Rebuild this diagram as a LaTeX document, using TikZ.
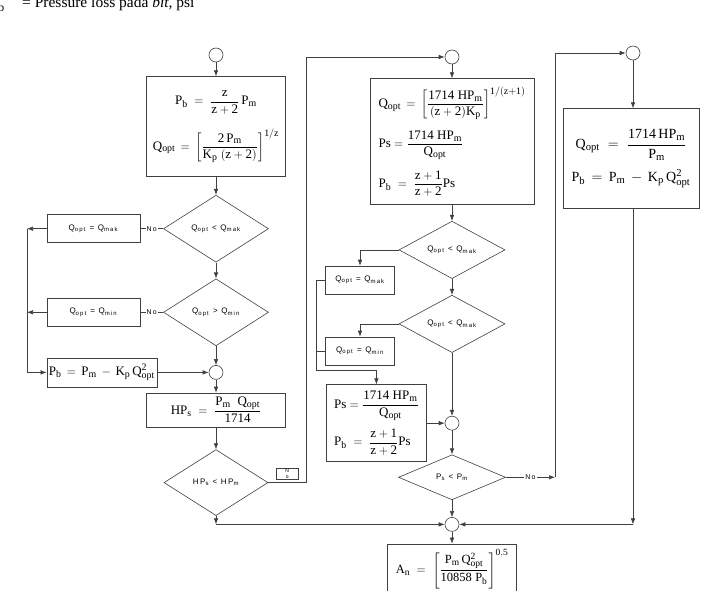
\documentclass[tikz,border=0pt]{standalone}
\usepackage{amsmath}
\usepackage{fontspec}
\setmainfont{Liberation Serif}
\newfontfamily\lblfont[LetterSpace=18]{Liberation Sans}
\renewcommand\defaultscriptratio{.76}
\usetikzlibrary{arrows.meta,positioning,shapes.geometric}
\definecolor{ink}{RGB}{64,64,64}

\begin{document}
\begin{tikzpicture}[x=1pt,y=-1pt]
\tikzstyle{B}=[draw=ink,line width=0.6pt,align=left,inner sep=3pt,font=\fontsize{13}{15}\selectfont]
\tikzstyle{Q}=[draw=ink,line width=0.6pt,minimum width=93pt,minimum height=28pt,inner sep=1pt,font=\lblfont\fontsize{8}{9}\selectfont]
\tikzstyle{D}=[draw=ink,line width=0.6pt,diamond,inner sep=0pt,minimum width=105pt,minimum height=67pt,font=\lblfont\fontsize{8}{9}\selectfont]
\tikzstyle{J}=[draw=ink,line width=0.6pt,circle,minimum size=14pt,inner sep=0pt]
\tikzstyle{A}=[-{Latex[length=6pt,width=4.5pt]},draw=ink,line width=0.6pt]
\tikzstyle{L}=[draw=ink,line width=0.6pt]
\tikzstyle{nolbl}=[fill=white,inner sep=1pt,font=\lblfont\fontsize{7}{8}\selectfont]
\tikzstyle{nobox}=[draw=ink,line width=0.5pt,minimum width=22pt,minimum height=11pt,inner sep=0pt,align=center,font=\lblfont\fontsize{5}{5.5}\selectfont]
\useasboundingbox (0,0) rectangle (702,591);
\clip (0,0) rectangle (702,591);
\node[anchor=base west,inner sep=0pt,font=\fontsize{15.5}{17}\selectfont] (cap) at (22,8) {= Pressure loss pada \textit{bit}, psi};
\node[anchor=base east,inner sep=0pt,font=\fontsize{15.5}{17}\selectfont] (capb) at (5,8) {P\textsubscript{b}};
% left column
\node[J] (s1) at (216,55) {};
\node[B,below=14pt of s1,minimum width=139pt,minimum height=100pt,align=center] (b1) {$\mathrm{P_b}\;=\;\dfrac{\mathrm{z}}{\mathrm{z+2}}\,\mathrm{P_m}$\\[14pt]
$\mathrm{Q_{opt}}\,=\,\left[\dfrac{\mathrm{2\,P_m}}{\mathrm{K_p\;(z+2)}}\right]^{\mathrm{1/z}}$};
\node[D,below=18pt of b1] (d1) {Q\textsubscript{opt} < Q\textsubscript{mak}};
\node[D,below=16pt of d1] (d2) {Q\textsubscript{opt} > Q\textsubscript{min}};
\node[J,below=19pt of d2] (j1) {};
\node[B,below=13pt of j1,minimum width=139pt,minimum height=34pt,align=center] (b2) {$\mathrm{HP_s}\;=\;\dfrac{\mathrm{P_m\;\;Q_{opt}}}{\mathrm{1714}}$};
\node[D,below=22pt of b2,minimum width=104pt,minimum height=66pt] (d3) {HP\textsubscript{s} < HP\textsubscript{m}};
\node[Q,left=23pt of d1] (q1) {Q\textsubscript{opt} = Q\textsubscript{mak}};
\node[Q,left=23pt of d2] (q2) {Q\textsubscript{opt} = Q\textsubscript{min}};
\node[B,anchor=west,minimum width=110pt,minimum height=29pt,inner sep=1pt] (pb) at (q2.west |- j1) {$\mathrm{P_b}\,=\,\mathrm{P_m}\,-\,\mathrm{K_p\,Q^2_{opt}}$};
% middle column
\node[J] (s2) at (452,57) {};
\node[B,below=14pt of s2,minimum width=164pt,minimum height=126pt,inner sep=5pt] (b3) {$\mathrm{Q_{opt}}\,=\,\left[\dfrac{\mathrm{1714\;HP_m}}{\mathrm{(z+2)K_p}}\right]^{\mathrm{1/(z+1)}}$\\[10pt]
$\mathrm{Ps}=\dfrac{\mathrm{1714\;HP_m}}{\mathrm{Q_{opt}}}$\\[10pt]
$\mathrm{P_b}\;=\;\dfrac{\mathrm{z+1}}{\mathrm{z+2}}\mathrm{Ps}$};
\node[D,below=16pt of b3,minimum width=106pt,minimum height=56pt] (d4) {Q\textsubscript{opt} < Q\textsubscript{mak}};
\node[D,below=16pt of d4,minimum width=106pt,minimum height=56pt] (d5) {Q\textsubscript{opt} < Q\textsubscript{mak}};
\node[J,below=63pt of d5] (j2) {};
\node[D,below=24pt of j2,minimum width=107pt,minimum height=45pt] (d6) {P\textsubscript{s} < P\textsubscript{m}};
\node[J,below=17pt of d6] (jf) {};
\node[B,below=12pt of jf,minimum width=129pt,minimum height=50pt,inner sep=1pt,align=center,font=\fontsize{12.5}{14}\selectfont] (b6) {$\mathrm{A_n}\;=\;\left[\dfrac{\mathrm{P_m\,Q^2_{opt}}}{\mathrm{10858\;P_b}}\right]^{\mathrm{0,5}}$};
\node[Q,minimum width=69pt] (q3) at (360,280) {Q\textsubscript{opt} = Q\textsubscript{mak}};
\node[Q,minimum width=69pt] (q4) at (360,351) {Q\textsubscript{opt} = Q\textsubscript{min}};
\node[B,left=18pt of j2,minimum width=100pt,minimum height=77pt] (b4) {$\mathrm{Ps}=\dfrac{\mathrm{1714\;HP_m}}{\mathrm{Q_{opt}}}$\\[8pt]
$\mathrm{P_b}\;=\;\dfrac{\mathrm{z+1}}{\mathrm{z+2}}\mathrm{Ps}$};
% right column
\node[J] (s3) at (633,53) {};
\node[B,below=48pt of s3,xshift=-2pt,minimum width=136pt,minimum height=100pt,align=center,font=\fontsize{14}{16}\selectfont] (b5) {$\mathrm{Q_{opt}}\;=\;\dfrac{\mathrm{1714\,HP_m}}{\mathrm{P_m}}$\\[8pt]
$\mathrm{P_b}\,=\,\mathrm{P_m}\,-\,\mathrm{K_p\,Q^2_{opt}}$};
% connectors
\foreach \a/\b in {s1/b1,b1/d1,d1/d2,d2/j1,j1/b2,b2/d3,s2/b3,b3/d4,d4/d5,d5/j2,j2/d6,d6/jf,jf/b6}
  \draw[A] (\a)--(\b);
\draw[L] (d1) -- node[nolbl]{No} (q1);
\draw[L] (d2) -- node[nolbl]{No} (q2);
\coordinate (lx) at (27,0);
\draw[A] (q1.west) -- (q1.west -| lx);
\draw[A] (q2.west) -- (q2.west -| lx);
\draw[A] (q1.west -| lx) |- (pb.west);
\draw[A] (pb) -- (j1);
\draw[A] (d4.west) -| (q3.north);
\draw[A] (d5.west) -| (q4.north);
\coordinate (mk) at (316,370);
\draw[A] (q3.west) -| (mk) -| (b4.north);
\draw[L] (q4.west) -- (q4.west -| mk);
\draw[A] (b4) -- (j2);
\coordinate (nx) at (306,0);
\draw[L] (d3.east) -- node[nobox,above=3pt]{N\\o} (d3.east -| nx);
\draw[A] (d3.east -| nx) |- (s2.west);
\coordinate (rx) at (555,0);
\draw[A] (d6.east) -- node[nolbl]{No} (d6.east -| rx);
\draw[A] (d6.east -| rx) |- (s3.west);
\draw[A] (s3) -- (s3 |- b5.north);
\draw[A] (s3 |- b5.south) -- (s3 |- jf);
\draw[A] (s3 |- jf) -- (jf);
\draw[A] (d3) -- (d3 |- jf);
\draw[A] (d3 |- jf) -- (jf);
\end{tikzpicture}
\end{document}
